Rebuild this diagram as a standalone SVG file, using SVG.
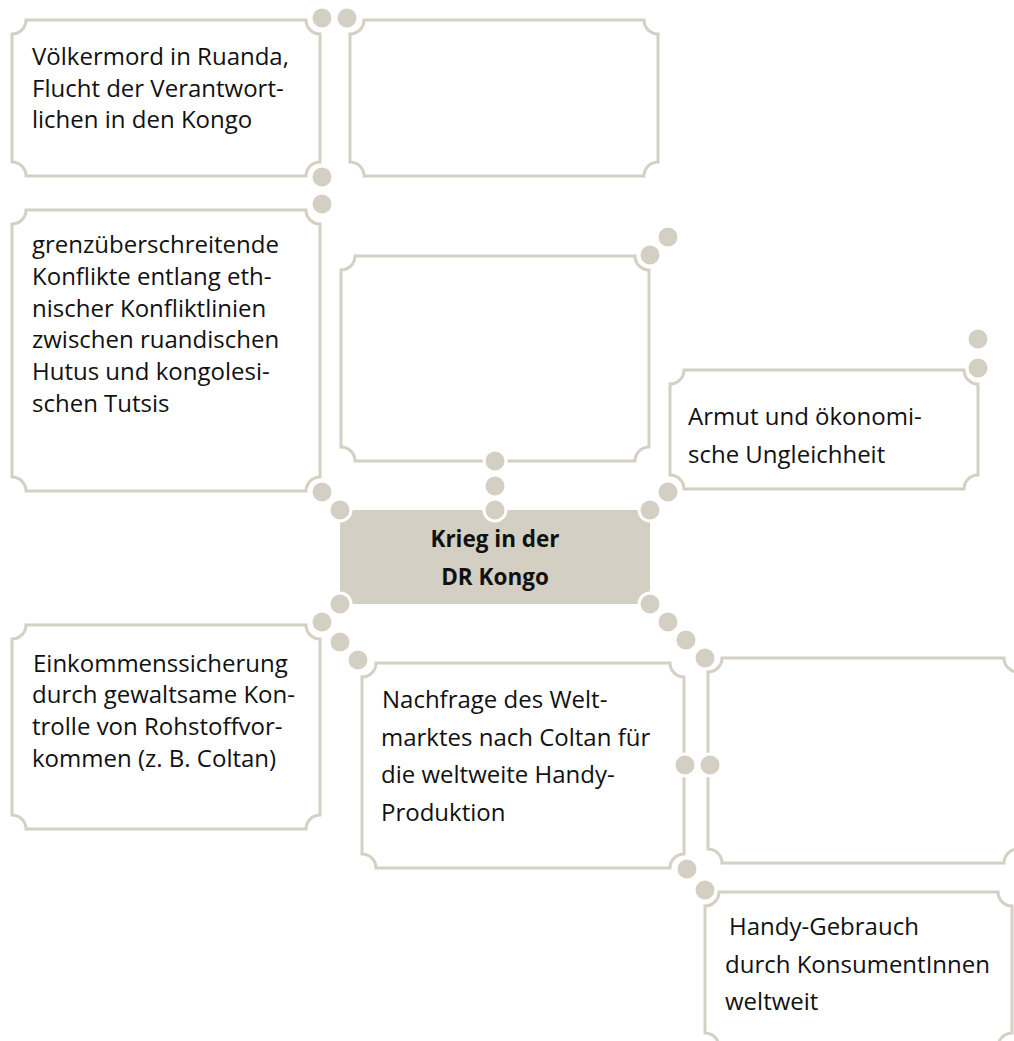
<svg xmlns="http://www.w3.org/2000/svg" width="1014" height="1041" viewBox="0 0 1014 1041">
<style>
.box{fill:#fff;stroke:#d4d0c4;stroke-width:3}
.core{fill:#d3cfc3}
.dot{fill:#d3cfc3;stroke:#fff;stroke-width:3}
text{font-family:"Open Sans","Noto Sans","Liberation Sans",sans-serif;font-size:24px;fill:#111}
.b{font-weight:bold;text-anchor:middle;font-size:22.5px}
</style>
<rect width="1014" height="1041" fill="#fff"/>
<g id="n1"><path class="box" d="M26,20H306A14,14 0 0 0 320,34V162A14,14 0 0 0 306,176H26A14,14 0 0 0 12,162V34A14,14 0 0 0 26,20Z"/>
<text x="32" y="65">Völkermord in Ruanda,</text><text x="32" y="97">Flucht der Verantwort-</text><text x="32" y="128">lichen in den Kongo</text></g>
<g id="n2"><path class="box" d="M364,20H644A14,14 0 0 0 658,34V162A14,14 0 0 0 644,176H364A14,14 0 0 0 350,162V34A14,14 0 0 0 364,20Z"/></g>
<g id="n3"><path class="box" d="M26,210H306A14,14 0 0 0 320,224V477A14,14 0 0 0 306,491H26A14,14 0 0 0 12,477V224A14,14 0 0 0 26,210Z"/>
<text x="32" y="253">grenzüberschreitende</text><text x="32" y="285">Konflikte entlang eth-</text><text x="32" y="317">nischer Konfliktlinien</text><text x="32" y="348">zwischen ruandischen</text><text x="32" y="380">Hutus und kongolesi-</text><text x="32" y="412">schen Tutsis</text></g>
<g id="n4"><path class="box" d="M355,256H635A14,14 0 0 0 649,270V447A14,14 0 0 0 635,461H355A14,14 0 0 0 341,447V270A14,14 0 0 0 355,256Z"/></g>
<g id="n5"><path class="box" d="M684,370H964A14,14 0 0 0 978,384V475A14,14 0 0 0 964,489H684A14,14 0 0 0 670,475V384A14,14 0 0 0 684,370Z"/>
<text x="688" y="425">Armut und ökonomi-</text><text x="688" y="463">sche Ungleichheit</text></g>
<g id="center"><rect class="core" x="340" y="510" width="310" height="94"/>
<text class="b" x="495" y="547">Krieg in der</text><text class="b" x="495" y="585">DR Kongo</text></g>
<g id="n6"><path class="box" d="M26,625H306A14,14 0 0 0 320,639V815A14,14 0 0 0 306,829H26A14,14 0 0 0 12,815V639A14,14 0 0 0 26,625Z"/>
<text x="33" y="672">Einkommenssicherung</text><text x="32" y="703">durch gewaltsame Kon-</text><text x="32" y="735">trolle von Rohstoffvor-</text><text x="32" y="767">kommen (z. B. Coltan)</text></g>
<g id="n7"><path class="box" d="M376,663H670A14,14 0 0 0 684,677V854A14,14 0 0 0 670,868H376A14,14 0 0 0 362,854V677A14,14 0 0 0 376,663Z"/>
<text x="382" y="708">Nachfrage des Welt-</text><text x="381" y="745.5">marktes nach Coltan für</text><text x="381" y="783">die weltweite Handy-</text><text x="381" y="820.5">Produktion</text></g>
<g id="n8"><path class="box" d="M722,658H1004A14,14 0 0 0 1018,672V849A14,14 0 0 0 1004,863H722A14,14 0 0 0 708,849V672A14,14 0 0 0 722,658Z"/></g>
<g id="n9"><path class="box" d="M719,892H998A14,14 0 0 0 1012,906V1033A14,14 0 0 0 998,1047H719A14,14 0 0 0 705,1033V906A14,14 0 0 0 719,892Z"/>
<text x="729" y="935">Handy-Gebrauch</text><text x="725" y="973">durch KonsumentInnen</text><text x="725" y="1010">weltweit</text></g>
<g id="connectors">
<circle class="dot" cx="322" cy="18" r="11"/><circle class="dot" cx="347" cy="18" r="11"/>
<circle class="dot" cx="322" cy="177" r="11"/><circle class="dot" cx="322" cy="204" r="11"/>
<circle class="dot" cx="650" cy="255" r="11"/><circle class="dot" cx="668" cy="237" r="11"/>
<circle class="dot" cx="978" cy="368" r="11"/><circle class="dot" cx="978" cy="339" r="11"/>
<circle class="dot" cx="322" cy="492" r="11"/><circle class="dot" cx="340" cy="510" r="11"/>
<circle class="dot" cx="495" cy="461" r="11"/><circle class="dot" cx="495" cy="486" r="11"/><circle class="dot" cx="495" cy="510" r="11"/>
<circle class="dot" cx="668" cy="492" r="11"/><circle class="dot" cx="650" cy="510" r="11"/>
<circle class="dot" cx="340" cy="604" r="11"/><circle class="dot" cx="322" cy="622" r="11"/><circle class="dot" cx="340" cy="642" r="11"/><circle class="dot" cx="358" cy="660" r="11"/>
<circle class="dot" cx="650" cy="604" r="11"/><circle class="dot" cx="668" cy="622" r="11"/><circle class="dot" cx="686" cy="640" r="11"/><circle class="dot" cx="705" cy="658" r="11"/>
<circle class="dot" cx="685" cy="765" r="11"/><circle class="dot" cx="710" cy="765" r="11"/>
<circle class="dot" cx="687" cy="869" r="11"/><circle class="dot" cx="705" cy="890" r="11"/>
</g>
</svg>
